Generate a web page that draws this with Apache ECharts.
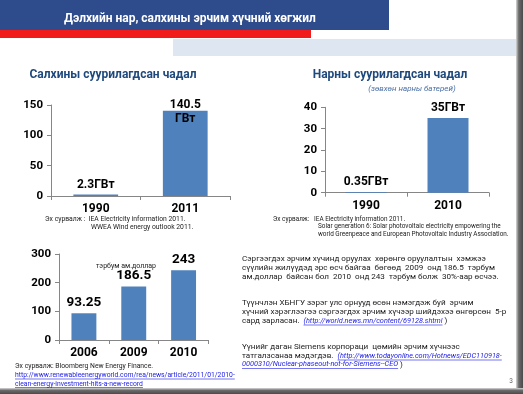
<!DOCTYPE html>
<html>
<head>
<meta charset="utf-8">
<script src="https://cdn.jsdelivr.net/npm/echarts@6/dist/echarts.min.js"></script>
<style>
html,body{margin:0;padding:0;background:#fff;}
#main{width:523px;height:394px;}
</style>
</head>
<body>
<div id="main"></div>
<script>
// ---- data ----
const pageTitle = 'Дэлхийн нар, салхины эрчим хүчний хөгжил';

const windTitle = 'Салхины суурилагдсан чадал';
const windCategories = ['1990', '2011'];
const windValues = [2.3, 140.5];
const windLabels = ['2.3ГВт', '140.5\nГВт'];
const windTicks = [0, 50, 100, 150];
const windSource = ['Эх сурвалж :  IEA Electricity information 2011.', 'WWEA Wind energy outlook 2011.'];

const solarTitle = 'Нарны суурилагдсан чадал';
const solarSubtitle = '(зөвхөн нарны батерей)';
const solarCategories = ['1990', '2010'];
const solarValues = [0.35, 35];
const solarLabels = ['0.35ГВт', '35ГВт'];
const solarTicks = [0, 10, 20, 30, 40];
const solarSource = ['Эх сурвалж:   IEA Electricity information 2011.',
  'Solar generation 6: Solar photovoltaic electricity empowering the',
  'world Greenpeace and European Photovoltaic Industry Association.'];

const investUnit = 'тэрбум ам.доллар';
const investCategories = ['2006', '2009', '2010'];
const investValues = [93.25, 186.5, 243];
const investLabels = ['93.25', '186.5', '243'];
const investTicks = [0, 100, 200, 300];
const investSource = 'Эх сурвалж: Bloomberg New Energy Finance.';
const investLinks = ['http://www.renewableenergyworld.com/rea/news/article/2011/01/2010-',
  'clean-energy-investment-hits-a-new-record'];

const para1 = ['Сэргээгдэх эрчим хүчинд оруулах  хөрөнгө оруулалтын  хэмжээ',
  'сүүлийн жилүүдэд эрс өсч байгаа  бөгөөд  2009  онд 186.5  тэрбум',
  'ам.доллар  байсан бол  2010  онд 243  тэрбум болж  30%-аар өсчээ.'];
const para2 = ['Түүнчлэн ХБНГУ зэрэг улс орнууд өсөн нэмэгдэж буй  эрчим',
  'хүчний хэрэглээгээ сэргээгдэх эрчим хүчээр шийдэхээ өнгөрсөн  5-р'];
const para2last = ['сард зарласан.  ', '(http://world.news.mn/content/69128.shtml', ' )'];
const para3 = ['Үүнийг даган Siemens корпораци  цөмийн эрчим хүчнээс'];
const para3link = ['татгалзсанаа мэдэгдэв.  ', '(http://www.todayonline.com/Hotnews/EDC110918-'];
const para3last = ['0000310/Nuclear-phaseout-not-for-Siemens--CEO', ' )'];
const pageNumber = '3';

// ---- helpers ----
const FF = "Roboto, 'Noto Sans', sans-serif";
const cv = document.createElement('canvas').getContext('2d');
function tw(text, font) { cv.font = font; return cv.measureText(text).width; }
const els = [];
function txt(text, x, y, font, fill, align, extra) {
  els.push(Object.assign({ type: 'text', silent: true,
    style: { text: text, x: x, y: y, font: font, fill: fill, textAlign: align || 'left', textVerticalAlign: 'middle' } }, extra || {}));
}
function underline(x, y, w, color) {
  els.push({ type: 'line', silent: true, shape: { x1: x, y1: y, x2: x + w, y2: y }, style: { stroke: color, lineWidth: 0.6 } });
}

// slide decorations
els.push({ type: 'rect', silent: true, shape: { x: 0, y: 0, width: 389, height: 30 }, style: { fill: '#2E4B8B' } });
els.push({ type: 'rect', silent: true, shape: { x: 0, y: 30, width: 311, height: 8 }, style: { fill: '#F21B1B' } });
els.push({ type: 'rect', silent: true, shape: { x: 173, y: 39, width: 343, height: 17 }, style: { fill: '#DEE6F1' } });
els.push({ type: 'rect', silent: true, shape: { x: 516, y: 0, width: 7, height: 394 },
  style: { fill: new echarts.graphic.LinearGradient(0, 0, 1, 0, [{ offset: 0, color: '#d8d8d8' }, { offset: 0.4, color: '#6a6a6a' }, { offset: 1, color: '#4a4a4a' }]) } });
els.push({ type: 'rect', silent: true, shape: { x: 0, y: 388, width: 523, height: 6 },
  style: { fill: new echarts.graphic.LinearGradient(0, 0, 0, 1, [{ offset: 0, color: '#d8d8d8' }, { offset: 0.4, color: '#6a6a6a' }, { offset: 1, color: '#4a4a4a' }]) } });

txt(pageTitle, 190, 19, 'bold 12px ' + FF, '#FFFFFF', 'center');
txt(windTitle, 113, 75, 'bold 12px ' + FF, '#1F497D', 'center');
txt(solarTitle, 390, 75, 'bold 12px ' + FF, '#1F497D', 'center');
txt(solarSubtitle, 412, 89, 'italic 8px ' + FF, '#4A6FA5', 'center');

const srcFont = '6.8px ' + FF;
const srcFont2 = '6.4px ' + FF;
txt(windSource[0], 45, 219, srcFont, '#222', 'left');
txt(windSource[1], 91, 227.5, srcFont, '#222', 'left');
txt(solarSource[0], 273, 219, srcFont2, '#222', 'left');
txt(solarSource[1], 318, 226.5, srcFont2, '#222', 'left');
txt(solarSource[2], 318, 234, srcFont2, '#222', 'left');
txt(investUnit, 126, 266, '7px ' + FF, '#222', 'center');
txt(investSource, 15, 366.5, srcFont, '#222', 'left');
const linkColor = '#1A1AE6';
investLinks.forEach(function (t, i) {
  const y = 375.5 + i * 8.5;
  txt(t, 15, y, srcFont, linkColor, 'left');
  underline(15, y + 3.5, tw(t, srcFont), linkColor);
});

const pf = '8.1px ' + FF;
const pc = '#1a1a1a';
const lf = 'italic 7.3px ' + FF;
para1.forEach(function (t, i) { txt(t, 242, 259 + i * 9, pf, pc, 'left'); });
para2.forEach(function (t, i) { txt(t, 242, 303 + i * 9, pf, pc, 'left'); });
(function () {
  let x = 242; const y = 321;
  txt(para2last[0], x, y, pf, pc, 'left'); x += tw(para2last[0], pf);
  txt(para2last[1], x, y, lf, linkColor, 'left'); underline(x, y + 4, tw(para2last[1], lf), linkColor); x += tw(para2last[1], lf);
  txt(para2last[2], x, y, pf, pc, 'left');
})();
para3.forEach(function (t, i) { txt(t, 242, 347 + i * 9, pf, pc, 'left'); });
(function () {
  let x = 242; const y = 356;
  txt(para3link[0], x, y, pf, pc, 'left'); x += tw(para3link[0], pf);
  txt(para3link[1], x, y, lf, linkColor, 'left'); underline(x, y + 4, tw(para3link[1], lf), linkColor);
  x = 242; const y2 = 364.5;
  txt(para3last[0], x, y2, lf, linkColor, 'left'); underline(x, y2 + 4, tw(para3last[0], lf), linkColor); x += tw(para3last[0], lf);
  txt(para3last[1], x, y2, pf, pc, 'left');
})();
txt(pageNumber, 511, 381, '6.5px ' + FF, '#666', 'center');

// ---- charts ----
const axisColor = '#868686';
function xAx(gi, cats) {
  return { type: 'category', gridIndex: gi, data: cats,
    axisLine: { lineStyle: { color: axisColor, width: 1 } },
    axisTick: { show: true, length: 4, lineStyle: { color: axisColor } },
    axisLabel: { color: '#000', fontFamily: FF, fontWeight: 'bold', fontSize: 12, margin: 7 } };
}
function yAx(gi, max, interval) {
  return { type: 'value', gridIndex: gi, min: 0, max: max, interval: interval,
    axisLine: { show: true, lineStyle: { color: axisColor, width: 1 } },
    axisTick: { show: true, length: 4, lineStyle: { color: axisColor } },
    splitLine: { show: false },
    axisLabel: { color: '#000', fontFamily: FF, fontWeight: 'bold', fontSize: 11.5, margin: 8 } };
}
function bars(gi, values, labels, fs, extraFor) {
  return { type: 'bar', xAxisIndex: gi, yAxisIndex: gi, barWidth: '50%',
    itemStyle: { color: '#4F81BD' },
    label: { show: true, position: 'top', distance: 3, color: '#000', fontFamily: FF, fontWeight: 'bold', fontSize: fs, lineHeight: fs + 2,
      formatter: function (p) { return labels[p.dataIndex]; } },
    data: values.map(function (v, i) { return extraFor && extraFor[i] ? Object.assign({ value: v }, extraFor[i]) : v; }) };
}

const chart = echarts.init(document.getElementById('main'), null, { renderer: 'canvas' });
chart.setOption({
  animation: false,
  backgroundColor: '#fff',
  grid: [
    { left: 51, top: 105, width: 179, height: 91 },
    { left: 325, top: 107.3, width: 164, height: 85.4 },
    { left: 59, top: 254, width: 149.5, height: 86 }
  ],
  xAxis: [xAx(0, windCategories), xAx(1, solarCategories), xAx(2, investCategories)],
  yAxis: [yAx(0, windTicks[windTicks.length - 1], windTicks[1] - windTicks[0]),
          yAx(1, solarTicks[solarTicks.length - 1], solarTicks[1] - solarTicks[0]),
          yAx(2, investTicks[investTicks.length - 1], investTicks[1] - investTicks[0])],
  series: [
    bars(0, windValues, windLabels, 12, [null, { label: { offset: [0, 18] } }]),
    bars(1, solarValues, solarLabels, 12),
    bars(2, investValues, investLabels, 13.5)
  ],
  graphic: { elements: els }
});
</script>
</body>
</html>
